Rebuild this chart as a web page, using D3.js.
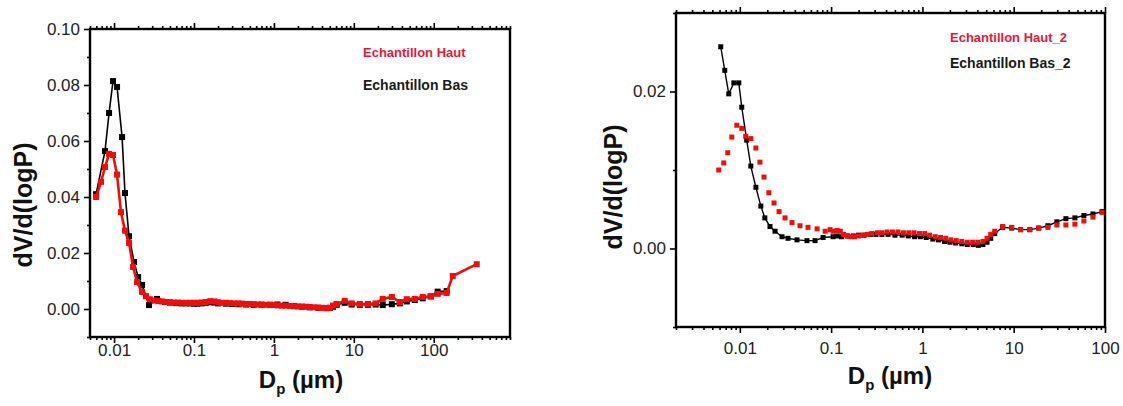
<!DOCTYPE html>
<html>
<head>
<meta charset="utf-8">
<script src="https://cdn.jsdelivr.net/npm/d3@7"></script>
<style>
  body { margin: 0; background: #fff; }
  svg { display: block; font-family: Arial, "Liberation Sans", sans-serif; }
</style>
</head>
<body>
<script>
// tick labels
const xTickLabels = [0.01, 0.1, 1, 10, 100];
const yTicksLeft = [0, 0.02, 0.04, 0.06, 0.08, 0.10];
const yTicksRight = [0, 0.02];
const legendLeft = ["Echantillon Haut", "Echantillon Bas"];
const legendRight = ["Echantillon Haut_2", "Echantillon Bas_2"];

// [Dp (µm), dV/d(logP)]
const haut = [[0.00596,0.0400],[0.00688,0.0454],[0.0077,0.0507],[0.00866,0.0554],[0.0097,0.0550],[0.0109,0.0480],
  [0.0122,0.0346],[0.0137,0.0280],[0.0154,0.0236],[0.0173,0.0150],[0.0194,0.0096],[0.0224,0.0061],[0.0251,0.0046],
  [0.028,0.0035],[0.032,0.0030],[0.036,0.0028],[0.040,0.0027],[0.045,0.0025],[0.05,0.0024],[0.056,0.0023],[0.063,0.0023],
  [0.07,0.0022],[0.08,0.0022],[0.09,0.0022],[0.1,0.0022],[0.11,0.0022],[0.125,0.0023],[0.14,0.0025],[0.16,0.0028],
  [0.18,0.0027],[0.2,0.0024],[0.22,0.0022],[0.25,0.0022],[0.28,0.0021],[0.32,0.0020],[0.36,0.0020],[0.4,0.0019],
  [0.45,0.0018],[0.5,0.0018],[0.56,0.0017],[0.63,0.0016],[0.7,0.0016],[0.8,0.0015],[0.9,0.0015],[1.0,0.0014],
  [1.12,0.0013],[1.26,0.0012],[1.4,0.0012],[1.6,0.0011],[1.8,0.0010],[2.0,0.0009],[2.25,0.0008],[2.5,0.0008],
  [2.8,0.0007],[3.2,0.0006],[3.6,0.0005],[4.0,0.0004],[4.5,0.0004],[5.0,0.0004],[5.5,0.0012],[6.1,0.0018],
  [7.7,0.0029],[9.4,0.0020],[11.9,0.0018],[15,0.0018],[18.8,0.0020],[23,0.0036],[29.9,0.0043],[37.6,0.0025],
  [46,0.0035],[57.9,0.0036],[72.9,0.0043],[91.7,0.0045],[112,0.0054],[145,0.0057],[173,0.0118],[345,0.0160]];

const bas = [[0.00596,0.0410],[0.0077,0.0564],[0.00866,0.0700],[0.0097,0.0814],[0.0109,0.0793],[0.0126,0.0614],
  [0.0137,0.0414],[0.0154,0.0260],[0.0178,0.0168],[0.0200,0.0114],[0.0224,0.0086],[0.0274,0.0014],[0.0345,0.0036],
  [0.0434,0.0025],[0.05,0.0023],[0.06,0.0021],[0.07,0.0020],[0.08,0.0020],[0.09,0.0020],[0.1,0.0019],[0.11,0.0019],
  [0.125,0.0020],[0.14,0.0022],[0.16,0.0024],[0.18,0.0023],[0.2,0.0020],[0.25,0.0019],[0.3,0.0018],[0.36,0.0017],
  [0.45,0.0016],[0.56,0.0015],[0.7,0.0015],[0.9,0.0015],[1.1,0.0016],[1.4,0.0015],[1.8,0.0011],[2.25,0.0008],
  [2.8,0.0006],[3.6,0.0004],[4.5,0.0003],[5.0,0.0004],[5.5,0.0008],[6.1,0.0015],[7.7,0.0022],[9.4,0.0016],
  [11.9,0.0015],[15,0.0015],[18.8,0.0016],[23,0.0014],[29.9,0.0017],[37.6,0.0020],[46,0.0027],[57.9,0.0032],
  [72.9,0.0038],[91.7,0.0045],[112,0.0062],[145,0.0064]];

const haut2 = [[0.00588,0.0100],[0.00667,0.0109],[0.00738,0.0122],[0.00817,0.0142],[0.00927,0.0157],[0.0105,0.0153],
  [0.0116,0.0143],[0.0132,0.0140],[0.0150,0.0128],[0.0166,0.0110],[0.0184,0.0091],[0.0208,0.0071],[0.0237,0.0058],
  [0.0269,0.0047],[0.0313,0.0039],[0.0373,0.0033],[0.0456,0.0029],[0.0558,0.0027],[0.0702,0.0025],[0.086,0.0022],
  [0.0975,0.0024],[0.105,0.0022],[0.116,0.0023],[0.126,0.0022],[0.137,0.0018],[0.15,0.0016],[0.165,0.0015],
  [0.18,0.0015],[0.2,0.0016],[0.225,0.0017],[0.25,0.0018],[0.28,0.0019],[0.32,0.0020],[0.36,0.0020],[0.41,0.0021],
  [0.47,0.0021],[0.54,0.0021],[0.62,0.0020],[0.71,0.0020],[0.81,0.0020],[0.93,0.0019],[1.06,0.0019],[1.2,0.0017],
  [1.38,0.0015],[1.58,0.0014],[1.8,0.0013],[2.05,0.0011],[2.35,0.0010],[2.7,0.0009],[3.1,0.0008],[3.55,0.0008],
  [4.05,0.0008],[4.6,0.0009],[5.1,0.0013],[5.6,0.0018],[6.2,0.0022],[7.57,0.0028],[9.5,0.0027],[11.9,0.0024],
  [15,0.0024],[18.8,0.0026],[23.7,0.0027],[29.7,0.0030],[37.3,0.0030],[46.8,0.0031],[58.7,0.0035],[73.8,0.0040],
  [92.7,0.0046]];

const bas2 = [[0.00618,0.0257],[0.00684,0.0227],[0.00757,0.0197],[0.0086,0.0211],[0.00975,0.0211],[0.0105,0.0180],
  [0.0119,0.0138],[0.0132,0.0105],[0.0150,0.0078],[0.0170,0.0054],[0.0188,0.0039],[0.0214,0.0028],[0.0243,0.0022],
  [0.029,0.0015],[0.0337,0.0013],[0.0423,0.0011],[0.0544,0.0010],[0.0667,0.0010],[0.0817,0.0014],[0.105,0.0015],
  [0.115,0.0016],[0.13,0.0015],[0.15,0.0016],[0.175,0.0016],[0.2,0.0017],[0.23,0.0017],[0.27,0.0018],[0.31,0.0018],
  [0.36,0.0018],[0.42,0.0018],[0.5,0.0017],[0.6,0.0017],[0.7,0.0016],[0.82,0.0015],[0.95,0.0015],[1.1,0.0014],
  [1.3,0.0012],[1.5,0.0011],[1.75,0.0009],[2.0,0.0008],[2.3,0.0007],[2.7,0.0006],[3.1,0.0005],[3.6,0.0005],
  [4.1,0.0004],[4.6,0.0005],[5.1,0.0008],[5.6,0.0013],[6.2,0.0019],[7.57,0.0027],[9.5,0.0026],[11.9,0.0024],
  [15,0.0024],[18.8,0.0026],[23.7,0.0029],[29.7,0.0034],[37.3,0.0038],[46.8,0.0039],[58.7,0.0042],[73.8,0.0044],
  [92.7,0.0047]];

const RED = "#f20d0d";
const LEGEND_RED = "#e8173a";

const svg = d3.select("body").append("svg").attr("width", 1123).attr("height", 406);

function panel(o) {
  const x = d3.scaleLog().domain(o.xDomain).range([o.left, o.right]);
  const y = d3.scaleLinear().domain(o.yDomain).range([o.bottom, o.top]);
  const g = svg.append("g");

  const isMajor = (list, t) => list.some(m => Math.abs(m - t) < 1e-9 + Math.abs(t) * 1e-6);
  const minorX = x.ticks().filter(t => !isMajor(xTickLabels, t));
  const minorY = y.ticks(o.minorYCount).filter(t => !isMajor(o.yTicks, t));

  const style = sel => {
    sel.select(".domain").remove();
    sel.selectAll("line").attr("stroke", "#000").attr("stroke-width", 1.6);
    sel.attr("font-family", null).attr("font-size", 17).selectAll("text").attr("fill", "#222");
  };

  // bottom
  g.append("g").attr("transform", `translate(0,${o.bottom})`)
    .call(d3.axisBottom(x).tickValues(xTickLabels).tickFormat(d3.format("~g")).tickSize(6).tickPadding(o.xPad)).call(style);
  g.append("g").attr("transform", `translate(0,${o.bottom})`)
    .call(d3.axisBottom(x).tickValues(minorX).tickFormat("").tickSize(3)).call(style);
  // top mirror
  g.append("g").attr("transform", `translate(0,${o.top})`)
    .call(d3.axisTop(x).tickValues(xTickLabels).tickFormat("").tickSize(6)).call(style);
  g.append("g").attr("transform", `translate(0,${o.top})`)
    .call(d3.axisTop(x).tickValues(minorX).tickFormat("").tickSize(3)).call(style);
  // left
  g.append("g").attr("transform", `translate(${o.left},0)`)
    .call(d3.axisLeft(y).tickValues(o.yTicks).tickFormat(d3.format(".2f")).tickSize(6).tickPadding(4)).call(style);
  g.append("g").attr("transform", `translate(${o.left},0)`)
    .call(d3.axisLeft(y).tickValues(minorY).tickFormat("").tickSize(3)).call(style);

  // frame
  g.append("rect").attr("x", o.left).attr("y", o.top)
    .attr("width", o.right - o.left).attr("height", o.bottom - o.top)
    .attr("fill", "none").attr("stroke", "#000").attr("stroke-width", 2.4);

  const line = d3.line().x(d => x(d[0])).y(d => y(d[1]));
  const plot = g.append("g");
  o.series.forEach(s => {
    if (s.lineWidth) {
      plot.append("path").datum(s.data).attr("d", line)
        .attr("fill", "none").attr("stroke", s.color).attr("stroke-width", s.lineWidth);
    }
    plot.selectAll(null).data(s.data).enter().append("rect")
      .attr("x", d => x(d[0]) - s.size / 2).attr("y", d => y(d[1]) - s.size / 2)
      .attr("width", s.size).attr("height", s.size).attr("fill", s.color);
  });

  // axis titles
  g.append("text").attr("transform", `translate(${o.yTitleX},${o.yTitleY}) rotate(-90)`)
    .attr("text-anchor", "middle").attr("font-size", 25).attr("font-weight", "bold").attr("fill", "#111")
    .text("dV/d(logP)");
  const xt = g.append("text").attr("x", o.xTitleX).attr("y", o.xTitleY)
    .attr("text-anchor", "middle").attr("font-size", 24).attr("font-weight", "bold").attr("fill", "#111");
  xt.append("tspan").text("D");
  xt.append("tspan").attr("font-size", 15).attr("dy", 6).text("p");
  xt.append("tspan").attr("dy", -6).text(" (µm)");

  // legend
  o.legend.forEach((t, i) => {
    g.append("text").attr("x", o.legX).attr("y", o.legY[i])
      .attr("font-size", i === 0 ? 13 : 14).attr("font-weight", "bold")
      .attr("fill", i === 0 ? LEGEND_RED : "#1a1a1a").text(t);
  });
}

panel({
  left: 90, right: 510, top: 29, bottom: 337,
  xDomain: [0.005, 900], yDomain: [-0.01, 0.10],
  yTicks: yTicksLeft, minorYCount: 11, xPad: 1,
  yTitleX: 32, yTitleY: 205, xTitleX: 301, xTitleY: 388,
  legend: legendLeft, legX: 363, legY: [57, 90],
  series: [
    { data: bas, color: "#000", size: 6, lineWidth: 1.6 },
    { data: haut, color: RED, size: 6, lineWidth: 2.6 }
  ]
});

panel({
  left: 676, right: 1105, top: 13, bottom: 327,
  xDomain: [0.002, 100], yDomain: [-0.01, 0.03],
  yTicks: yTicksRight, minorYCount: 4, xPad: 9,
  yTitleX: 622, yTitleY: 187, xTitleX: 890, xTitleY: 384,
  legend: legendRight, legX: 950, legY: [42, 68],
  series: [
    { data: bas2, color: "#000", size: 5, lineWidth: 1.4 },
    { data: haut2, color: RED, size: 5, lineWidth: 0 }
  ]
});
</script>
</body>
</html>
